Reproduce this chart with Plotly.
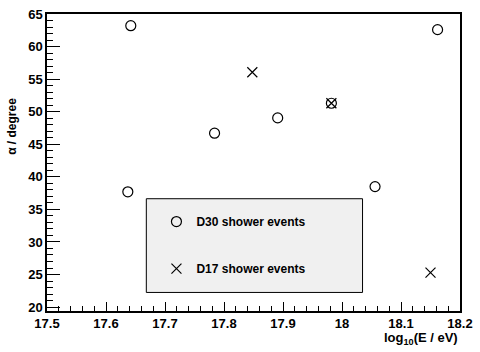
import plotly.graph_objects as go

# Shower events: log10 energy vs. angle alpha
d30_logE = [17.642, 17.637, 17.784, 17.891, 17.982, 18.056, 18.162]
d30_alpha = [63.2, 37.7, 46.7, 49.05, 51.3, 38.5, 62.6]

d17_logE = [17.848, 17.982, 18.150]
d17_alpha = [56.05, 51.3, 25.3]

x_ticks = [17.5, 17.6, 17.7, 17.8, 17.9, 18.0, 18.1, 18.2]
x_tick_labels = ["17.5", "17.6", "17.7", "17.8", "17.9", "18", "18.1", "18.2"]
y_ticks = [20, 25, 30, 35, 40, 45, 50, 55, 60, 65]
y_tick_labels = ["20", "25", "30", "35", "40", "45", "50", "55", "60", "65"]

FONT = "Liberation Sans"

fig = go.Figure()
fig.add_trace(go.Scatter(
    x=d30_logE, y=d30_alpha, mode="markers", name="<b>D30 shower events</b>",
    legendgroup="a",
    marker=dict(symbol="circle-open", size=10, color="black", line=dict(width=1.2)),
))
fig.add_trace(go.Scatter(
    x=d17_logE, y=d17_alpha, mode="markers", name="<b>D17 shower events</b>",
    legendgroup="b",
    marker=dict(symbol="x-thin-open", size=10, color="black", line=dict(width=1.2)),
))

axis_common = dict(
    showline=True, linecolor="black", linewidth=1.5, mirror=True,
    showgrid=False, zeroline=False, ticks="inside", tickcolor="black",
    tickfont=dict(family=FONT, size=13, color="black", weight="bold"),
)

fig.update_xaxes(
    range=[17.5, 18.2], tickvals=x_ticks, ticktext=x_tick_labels,
    ticklen=9, tickwidth=1,
    minor=dict(ticks="inside", dtick=0.02, tick0=17.5, ticklen=5, tickcolor="black", tickwidth=1),
    **axis_common,
)
fig.update_yaxes(
    range=[19.4, 65], tickvals=y_ticks, ticktext=y_tick_labels,
    ticklen=13, tickwidth=1,
    minor=dict(ticks="inside", dtick=1, tick0=20, ticklen=6, tickcolor="black", tickwidth=1),
    **axis_common,
)

# legend frame
fig.add_shape(type="rect", xref="paper", yref="paper",
              x0=0.2405, x1=0.764, y0=0.0625, y1=0.378,
              fillcolor="#f0f0f0", line=dict(color="black", width=1), layer="above")

fig.add_annotation(text="<b>log<sub>10</sub>(E / eV)</b>", xref="paper", yref="paper",
                   x=1, y=0, xanchor="right", yanchor="top", yshift=-17, showarrow=False,
                   font=dict(family=FONT, size=13, color="black"))
fig.add_annotation(text="<b>α / degree</b>", xref="paper", yref="paper",
                   x=0, y=0.62, xanchor="center", yanchor="middle", xshift=-35,
                   textangle=-90, showarrow=False,
                   font=dict(family=FONT, size=12, color="black"))

fig.update_layout(
    width=480, height=352,
    margin=dict(l=47, r=13, t=7, b=41),
    paper_bgcolor="white", plot_bgcolor="white",
    showlegend=True,
    legend=dict(x=0.265, y=0.35, xanchor="left", yanchor="top",
                bgcolor="rgba(0,0,0,0)", traceorder="grouped", tracegroupgap=28,
                font=dict(family=FONT, size=12, color="black")),
)

fig.write_html("out.html")
